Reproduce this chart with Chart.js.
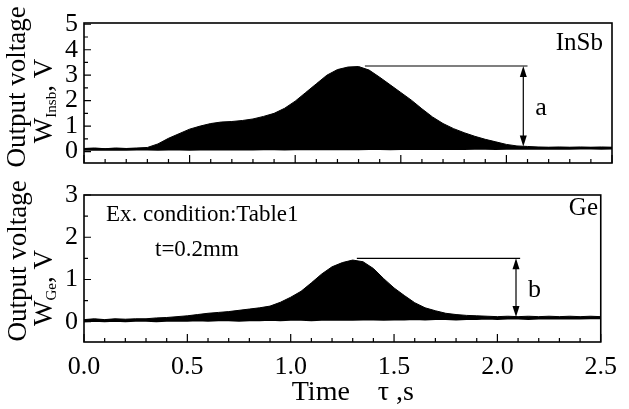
<!DOCTYPE html>
<html>
<head>
<meta charset="utf-8">
<script src="https://cdn.jsdelivr.net/npm/chart.js@4.4.1/dist/chart.umd.min.js"></script>
<style>
  html, body { margin: 0; padding: 0; background: #fff; }
  #wrap { position: relative; width: 629px; height: 409px; }
  #wrap canvas { position: absolute; left: 0; }
  #topChart { top: 0; }
  #bottomChart { top: 176px; }
</style>
</head>
<body>
<div id="wrap">
  <canvas id="topChart" width="629" height="182"></canvas>
  <canvas id="bottomChart" width="629" height="233"></canvas>
</div>
<script>
// time axis (s)
const times = [0.00, 0.05, 0.10, 0.15, 0.20, 0.25, 0.30, 0.35, 0.40, 0.45,
               0.50, 0.55, 0.60, 0.65, 0.70, 0.75, 0.80, 0.85, 0.90, 0.95,
               1.00, 1.05, 1.10, 1.15, 1.20, 1.25, 1.30, 1.35, 1.40, 1.45,
               1.50, 1.55, 1.60, 1.65, 1.70, 1.75, 1.80, 1.85, 1.90, 1.95,
               2.00, 2.05, 2.10, 2.15, 2.20, 2.25, 2.30, 2.35, 2.40, 2.45, 2.50];

// InSb signal: upper envelope and baseline (V)
const insbUpper = [0.12, 0.14, 0.11, 0.14, 0.12, 0.14, 0.16, 0.30, 0.52, 0.70,
                   0.88, 1.00, 1.10, 1.16, 1.18, 1.22, 1.28, 1.38, 1.50, 1.70,
                   1.98, 2.32, 2.66, 3.00, 3.22, 3.32, 3.34, 3.20, 2.92, 2.62,
                   2.32, 2.02, 1.68, 1.36, 1.10, 0.90, 0.74, 0.60, 0.48, 0.38,
                   0.28, 0.22, 0.20, 0.18, 0.17, 0.18, 0.17, 0.18, 0.17, 0.18, 0.17];
const insbBase = [0.08, 0.09, 0.08, 0.09, 0.08, 0.09, 0.09, 0.08, 0.09, 0.09,
                  0.08, 0.09, 0.09, 0.10, 0.09, 0.10, 0.09, 0.10, 0.10, 0.09,
                  0.10, 0.10, 0.11, 0.10, 0.10, 0.11, 0.10, 0.11, 0.11, 0.10,
                  0.11, 0.11, 0.12, 0.11, 0.11, 0.12, 0.11, 0.12, 0.12, 0.11,
                  0.12, 0.12, 0.13, 0.12, 0.12, 0.13, 0.12, 0.13, 0.13, 0.12, 0.13];

// Ge signal: upper envelope and baseline (V)
const geUpper = [0.05, 0.07, 0.05, 0.07, 0.06, 0.07, 0.07, 0.09, 0.10, 0.12,
                 0.14, 0.17, 0.20, 0.22, 0.24, 0.27, 0.30, 0.33, 0.37, 0.46,
                 0.58, 0.72, 0.92, 1.13, 1.30, 1.40, 1.46, 1.42, 1.26, 1.02,
                 0.80, 0.62, 0.45, 0.33, 0.26, 0.20, 0.17, 0.15, 0.14, 0.13,
                 0.12, 0.13, 0.12, 0.13, 0.12, 0.13, 0.12, 0.13, 0.12, 0.13, 0.12];
const geBase = [0.02, 0.03, 0.02, 0.03, 0.02, 0.03, 0.03, 0.02, 0.03, 0.03,
                0.03, 0.04, 0.03, 0.04, 0.04, 0.03, 0.04, 0.04, 0.05, 0.04,
                0.05, 0.05, 0.04, 0.05, 0.05, 0.06, 0.05, 0.06, 0.06, 0.05,
                0.06, 0.06, 0.07, 0.06, 0.07, 0.07, 0.06, 0.07, 0.07, 0.08,
                0.07, 0.08, 0.08, 0.07, 0.08, 0.08, 0.09, 0.08, 0.08, 0.09, 0.09];

// peak height markers: [line start, line end, arrow x, peak level, base level]
const markA = [1.33, 2.10, 2.08, 3.36, 0.20];
const markB = [1.32, 2.11, 2.09, 1.50, 0.11];

const xTicks = [0.0, 0.5, 1.0, 1.5, 2.0, 2.5];
const insbRange = [-0.45, 5.05];
const geRange = [-0.48, 3.0];

const SERIF = "'Liberation Serif', 'DejaVu Serif', serif";

function pts(ys) {
    return times.map((t, i) => ({ x: t, y: ys[i] }));
}

function rotatedTitle(ctx, cx, cy, parts) {
    // parts: [text, size, shift]
    ctx.save();
    ctx.translate(cx, cy);
    ctx.rotate(-Math.PI / 2);
    let total = 0;
    parts.forEach(p => {
        ctx.font = p[1] + "px " + SERIF;
        total += ctx.measureText(p[0]).width;
    });
    let pos = -total / 2;
    ctx.textBaseline = "middle";
    ctx.textAlign = "left";
    parts.forEach(p => {
        ctx.font = p[1] + "px " + SERIF;
        ctx.fillText(p[0], pos, p[2]);
        pos += ctx.measureText(p[0]).width;
    });
    ctx.restore();
}

function arrowHead(ctx, x, y, dir) {
    ctx.beginPath();
    ctx.moveTo(x, y);
    ctx.lineTo(x - 3.5, y + dir * 11);
    ctx.lineTo(x + 3.5, y + dir * 11);
    ctx.closePath();
    ctx.fill();
}

function decor(mark, letter, texts, titles) {
    return {
        id: "decor",
        afterDraw(chart) {
            const { ctx, chartArea: a, scales: { x, y } } = chart;
            ctx.save();
            ctx.strokeStyle = "#000";
            ctx.fillStyle = "#000";

            // frame
            ctx.lineWidth = 1.6;
            ctx.strokeRect(a.left, a.top, a.right - a.left, a.bottom - a.top);

            // inward ticks
            ctx.lineWidth = 1.2;
            ctx.beginPath();
            for (let i = 0; i <= 25; i++) {
                const px = x.getPixelForValue(i / 10);
                const len = i % 5 === 0 ? 8 : 4;
                ctx.moveTo(px, a.bottom);
                ctx.lineTo(px, a.bottom - len);
            }
            for (let v = Math.ceil(y.min * 2) / 2; v <= y.max; v += 0.5) {
                const py = y.getPixelForValue(v);
                const len = Number.isInteger(v) ? 7 : 4;
                ctx.moveTo(a.left, py);
                ctx.lineTo(a.left + len, py);
            }
            ctx.stroke();

            // peak marker
            const x0 = x.getPixelForValue(mark[0]);
            const x1 = x.getPixelForValue(mark[1]);
            const xa = x.getPixelForValue(mark[2]);
            const yt = y.getPixelForValue(mark[3]);
            const yb = y.getPixelForValue(mark[4]);
            ctx.lineWidth = 1.2;
            ctx.beginPath();
            ctx.moveTo(x0, yt);
            ctx.lineTo(x1, yt);
            ctx.moveTo(xa, yt + 4);
            ctx.lineTo(xa, yb - 4);
            ctx.stroke();
            arrowHead(ctx, xa, yt, 1);
            arrowHead(ctx, xa, yb, -1);
            ctx.font = "26px " + SERIF;
            ctx.textAlign = "left";
            ctx.textBaseline = "middle";
            ctx.fillText(letter, xa + 12, (yt + yb) / 2 + 2);

            // labels
            texts.forEach(t => {
                ctx.font = t.size + "px " + SERIF;
                ctx.textAlign = t.align;
                ctx.textBaseline = "alphabetic";
                ctx.fillText(t.text, t.x, t.y);
            });

            // y titles
            titles.forEach(t => rotatedTitle(ctx, t.x, t.y, t.parts));
            ctx.restore();
        }
    };
}

const tickFont = { family: SERIF, size: 26, lineHeight: 1 };

function yAxis(range, maxTick) {
    return {
        min: range[0],
        max: range[1],
        grid: { display: false, drawTicks: false },
        border: { display: false },
        afterFit(s) { s.width = 84; },
        ticks: {
            includeBounds: false,
            stepSize: 1,
            padding: 6,
            color: "#000",
            font: tickFont,
            callback: v => (Number.isInteger(v) && v >= 0 && v <= maxTick) ? String(v) : ""
        }
    };
}

function lineSets(upper, base) {
    return [
        {
            data: pts(base),
            borderColor: "#000",
            borderWidth: 2.5,
            pointRadius: 0,
            fill: false,
            tension: 0
        },
        {
            data: pts(upper),
            borderColor: "#000",
            backgroundColor: "#000",
            borderWidth: 1,
            pointRadius: 0,
            fill: "-1",
            tension: 0
        }
    ];
}

new Chart(document.getElementById("topChart"), {
    type: "line",
    data: { datasets: lineSets(insbUpper, insbBase) },
    options: {
        responsive: false,
        animation: false,
        devicePixelRatio: 1,
        layout: { padding: { left: 0, right: 17, top: 23, bottom: 7 } },
        plugins: { legend: { display: false }, tooltip: { enabled: false } },
        scales: {
            x: { type: "linear", min: 0, max: 2.5, display: false },
            y: yAxis(insbRange, 5)
        }
    },
    plugins: [decor(markA, "a",
        [{ text: "InSb", x: 603, y: 50, size: 25, align: "right" }],
        [
            { x: 18, y: 87, parts: [["Output voltage", 27, 0]] },
            { x: 45, y: 101, parts: [["W", 27, 0], ["Insb", 15, 7], [", V", 27, 0]] }
        ])]
});

new Chart(document.getElementById("bottomChart"), {
    type: "line",
    data: { datasets: lineSets(geUpper, geBase) },
    options: {
        responsive: false,
        animation: false,
        devicePixelRatio: 1,
        layout: { padding: { left: 0, right: 17, top: 14, bottom: 0 } },
        plugins: { legend: { display: false }, tooltip: { enabled: false } },
        scales: {
            x: {
                type: "linear",
                min: 0,
                max: 2.5,
                grid: { display: false, drawTicks: false },
                border: { display: false },
                afterFit(s) { s.height = 67; },
                afterBuildTicks(s) { s.ticks = xTicks.map(v => ({ value: v })); },
                ticks: {
                    padding: 12,
                    color: "#000",
                    font: tickFont,
                    maxRotation: 0,
                    callback: v => Number(v).toFixed(1)
                },
                title: {
                    display: true,
                    text: "\u00a0\u00a0\u00a0Time    τ ,s",
                    color: "#000",
                    font: { family: SERIF, size: 28 },
                    padding: { top: 0, bottom: 0 }
                }
            },
            y: yAxis(geRange, 3)
        }
    },
    plugins: [decor(markB, "b",
        [
            { text: "Ge", x: 598, y: 39, size: 25, align: "right" },
            { text: "Ex. condition:Table1", x: 106, y: 45, size: 23, align: "left" },
            { text: "t=0.2mm", x: 155, y: 80, size: 23, align: "left" }
        ],
        [
            { x: 19, y: 85, parts: [["Output voltage", 27, 0]] },
            { x: 45, y: 112, parts: [["W", 27, 0], ["Ge", 15, 7], [", V", 27, 0]] }
        ])]
});
</script>
</body>
</html>
